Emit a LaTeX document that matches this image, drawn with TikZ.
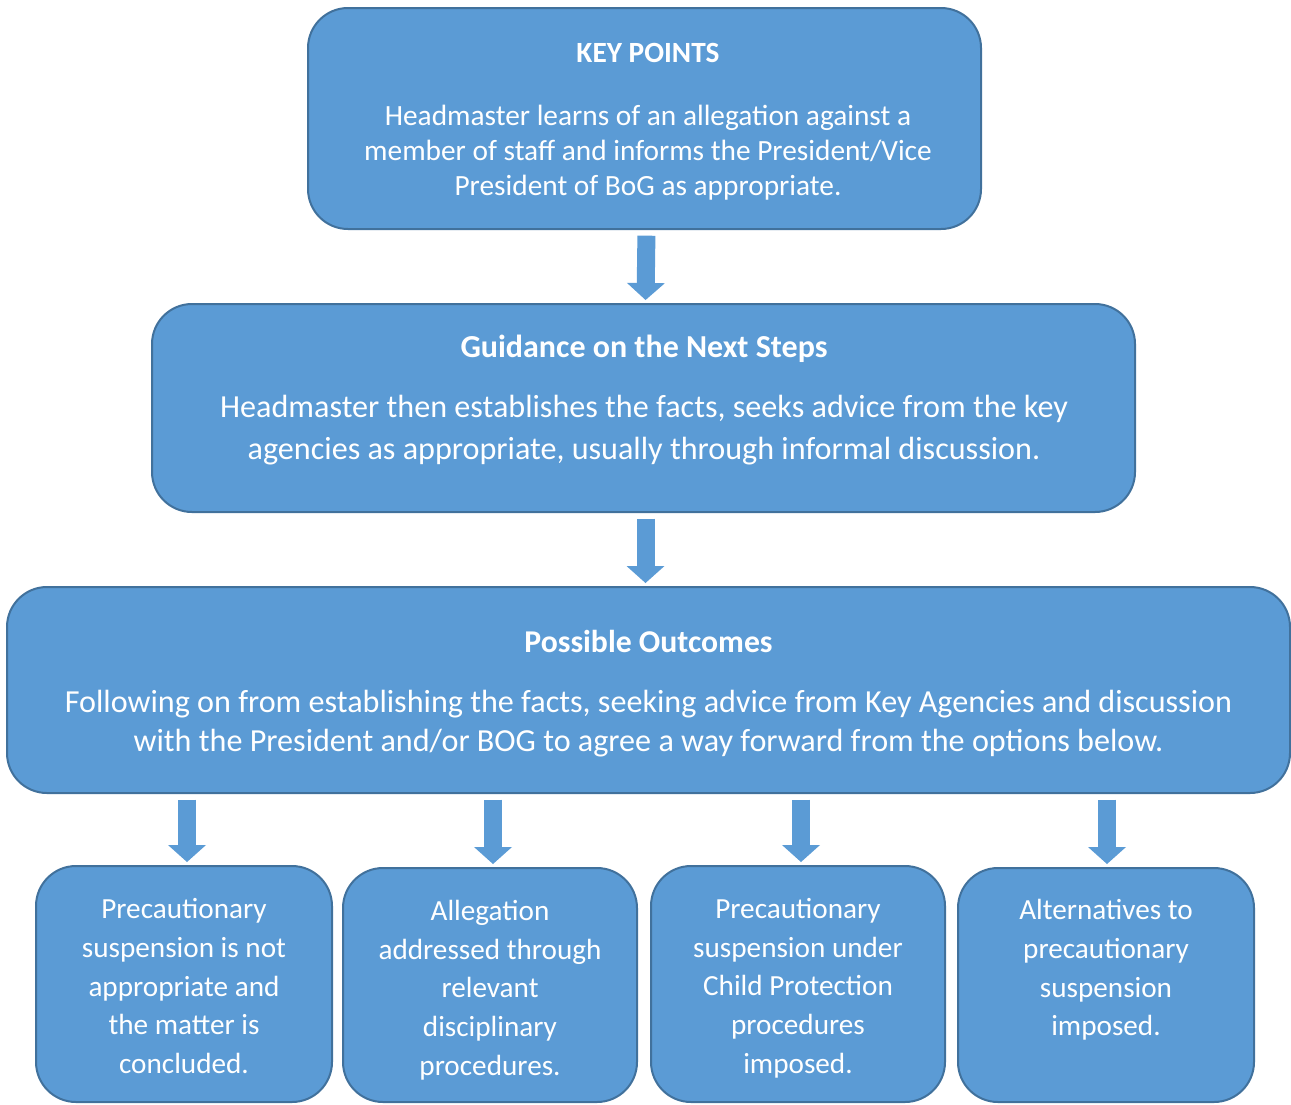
\documentclass[tikz,border=0pt]{standalone}
\usepackage{fontspec}
\setmainfont{Carlito}
\usetikzlibrary{arrows.meta}
\definecolor{boxfill}{HTML}{5B9BD5}
\definecolor{boxline}{HTML}{41719C}
\tikzset{
  box/.style={draw=boxline, fill=boxfill, line width=1.5pt, rounded corners=30pt, inner sep=0pt, outer sep=0pt},
  txt/.style={text=white, align=center, inner sep=0pt},
  flow/.style={draw=boxfill, line width=13.5pt,
    -{Triangle[width=28.5pt,length=12.75pt,line width=0pt]},
    shorten <=5pt, shorten >=3pt},
}
\begin{document}
\begin{tikzpicture}[x=0.75pt,y=-0.75pt]
\useasboundingbox (0,0) rectangle (1291,1104);
% boxes
\node[box, minimum width=504.75pt, minimum height=165.75pt] (b1) at (644.5,118.5) {};
\node[box, minimum width=737.25pt, minimum height=156pt] (b2) at (643.5,408) {};
\node[box, minimum width=962.25pt, minimum height=154.5pt] (b3) at (648.5,690) {};
\node[box, minimum width=222pt, minimum height=177pt] (o1) at (184,984) {};
\node[box, minimum width=220.5pt, minimum height=175.5pt] (o2) at (490,985) {};
\node[box, minimum width=220.5pt, minimum height=177pt] (o3) at (798,984) {};
\node[box, minimum width=222pt, minimum height=175.5pt] (o4) at (1106,985) {};
% texts
\node[txt, font=\fontsize{22pt}{26.25pt}\selectfont\bfseries] (h1) at (648,53) {KEY POINTS};
\node[txt, font=\fontsize{22pt}{26.25pt}\selectfont] (t1) at (648,153) {Headmaster learns of an allegation against a\\member of staff and informs the President/Vice\\President of BoG as appropriate.};
\node[txt, font=\fontsize{24pt}{31.5pt}\selectfont\bfseries] (h2) at (644,349) {Guidance on the Next Steps};
\node[txt, font=\fontsize{24.1pt}{31.5pt}\selectfont] (t2) at (644,430.5) {Headmaster then establishes the facts, seeks advice from the key\\agencies as appropriate, usually through informal discussion.};
\node[txt, font=\fontsize{23.8pt}{29.25pt}\selectfont\bfseries] (h3) at (648.5,641) {Possible Outcomes};
\node[txt, font=\fontsize{24.1pt}{29.25pt}\selectfont] (t3) at (648.5,724) {Following on from establishing the facts, seeking advice from Key Agencies and discussion\\with the President and/or BOG to agree a way forward from the options below.};
\node[txt, font=\fontsize{21.9pt}{29pt}\selectfont] (u1) at (184,986) {Precautionary\\suspension is not\\appropriate and\\the matter is\\concluded.};
\node[txt, font=\fontsize{21.9pt}{29pt}\selectfont] (u2) at (490,990) {Allegation\\addressed through\\relevant\\disciplinary\\procedures.};
\node[txt, font=\fontsize{21.9pt}{29pt}\selectfont] (u3) at (798,988) {Precautionary\\suspension under\\Child Protection\\procedures\\imposed.};
\node[txt, font=\fontsize{21.9pt}{29pt}\selectfont] (u4) at (1106,970) {Alternatives to\\precautionary\\suspension\\imposed.};
% arrows
\draw[flow] ([xshift=1.5pt]b1.south) -- ([xshift=1.5pt]b2.north);
\draw[flow] ([xshift=1.5pt]b2.south |- b2.south) -- ([xshift=1.5pt]b2.south |- b3.north);
\draw[flow] ([xshift=2.25pt]o1.north |- b3.south) -- ([xshift=2.25pt]o1.north);
\draw[flow] ([xshift=2.25pt]o2.north |- b3.south) -- ([xshift=2.25pt]o2.north);
\draw[flow] ([xshift=2.25pt]o3.north |- b3.south) -- ([xshift=2.25pt]o3.north);
\draw[flow] ([xshift=0.75pt]o4.north |- b3.south) -- ([xshift=0.75pt]o4.north);
\end{tikzpicture}
\end{document}
